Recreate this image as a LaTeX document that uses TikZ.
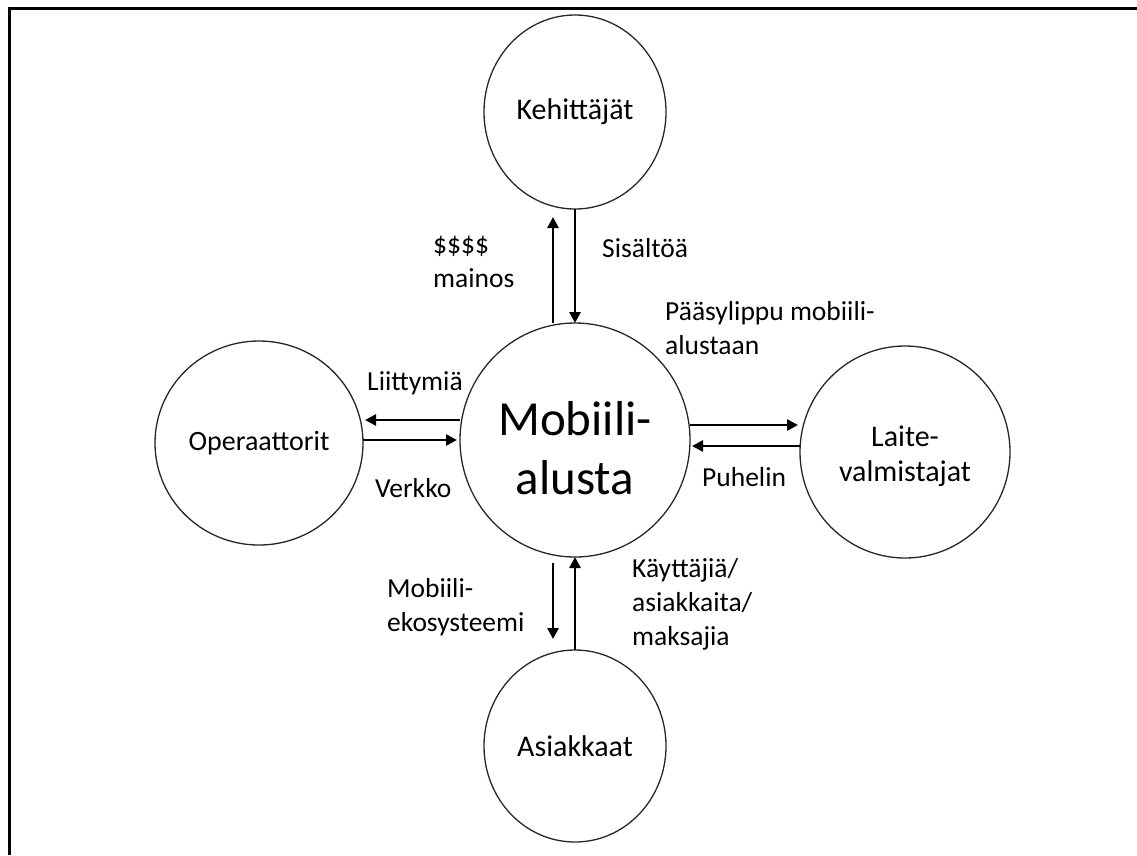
\documentclass[tikz,border=0pt]{standalone}
\usepackage{fontspec}
\setmainfont{Carlito}
\usetikzlibrary{shapes.geometric,arrows.meta}
\begin{document}
\begin{tikzpicture}[x=1pt,y=-1pt,
  party/.style={ellipse, draw=black!85, line width=1.3pt, inner sep=0pt, outer sep=0pt,
    align=center, font=\fontsize{30}{35}\selectfont},
  partytext/.style={align=center, inner sep=0pt},
  flow/.style={line width=2.6pt, -{Triangle[length=11pt,width=11pt]}},
  lbl/.style={anchor=west, align=left, inner sep=0pt, font=\fontsize{27.5}{34}\selectfont}]
\useasboundingbox (0,0) rectangle (1137,855);
% frame
\draw[line width=2.6pt] (9.7,855) -- (9.7,8.7) -- (1137,8.7);

% parties
\node[party, minimum width=230pt, minimum height=234pt] (mob) at (575,440) {};
\node[partytext, font=\fontsize{49}{59}\selectfont] (mobtext) at (575,448) {Mobiili-\\alusta};
\node[party, minimum width=182pt, minimum height=194pt] (keh) at (575,112) {Kehittäjät};
\node[party, minimum width=182pt, minimum height=192pt] (asi) at (575,746) {Asiakkaat};
\node[party, minimum width=208pt, minimum height=204pt, font=\fontsize{28}{34}\selectfont] (ope) at (259,443) {Operaattorit};
\node[party, minimum width=210pt, minimum height=212pt] (lai) at (905,452) {};
\node[partytext, font=\fontsize{30}{35}\selectfont] (laitext) at (905,456) {Laite-\\valmistajat};

% flows to and from the developers
\draw[flow, shorten >=8pt] ([xshift=-22pt]mob.north) -- ([xshift=-22pt]keh.south);
\draw[flow] (keh.south) -- (mob.north);
% flows to and from the customers
\draw[flow, shorten <=6pt, shorten >=11pt] ([xshift=-22pt]mob.south) -- ([xshift=-22pt]asi.north);
\draw[flow] (asi.north) -- (mob.south);
% flows to and from the operators
\draw[flow, shorten >=2pt] ([yshift=20pt]mob.west) -- ([yshift=23pt]ope.east);
\draw[flow, shorten >=3pt] ([yshift=3pt]ope.east) -- (mob.west);
% flows to and from the device makers
\draw[flow, shorten >=2pt] ([yshift=15pt]mob.east) -- ([yshift=27pt]lai.west);
\draw[flow, shorten >=2pt] ([yshift=6pt]lai.west) -- ([yshift=-6pt]mob.east);

% flow labels
\node[lbl] (l1) at (433,262) {\$\$\$\$\\mainos};
\node[lbl] (l2) at (602,248) {Sisältöä};
\node[lbl] (l3) at (665,328) {Pääsylippu mobiili-\\alustaan};
\node[lbl] (l4) at (367,383) {Liittymiä};
\node[lbl] (l5) at (375,488) {Verkko};
\node[lbl] (l6) at (702,477) {Puhelin};
\node[lbl] (l7) at (387,607) {Mobiili-\\ekosysteemi};
\node[lbl] (l8) at (632,604) {Käyttäjiä/\\asiakkaita/\\maksajia};
\end{tikzpicture}
\end{document}
